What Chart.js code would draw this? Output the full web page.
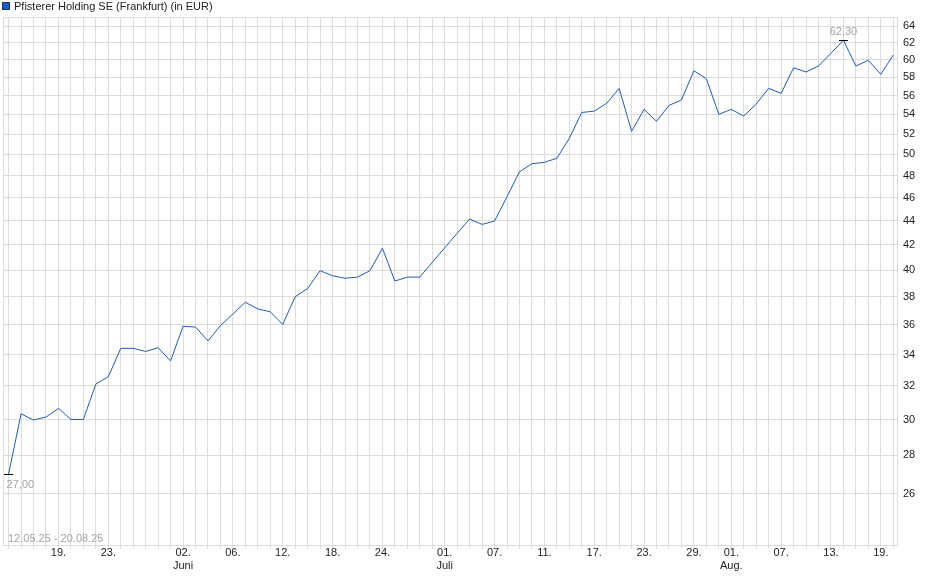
<!DOCTYPE html>
<html>
<head>
<meta charset="utf-8">
<script src="https://cdn.jsdelivr.net/npm/chart.js@4.4.1/dist/chart.umd.min.js"></script>
<style>
  html, body { margin: 0; padding: 0; background: #fff; }
  #wrap { width: 940px; height: 579px; position: relative; }
</style>
</head>
<body>
<div id="wrap"><canvas id="chart"></canvas></div>
<script>
// Closing prices, trading days 13.05.25 - 20.08.25 (Frankfurt)
const prices = [
  27.00, 30.33, 29.97, 30.14, 30.65, 30.00, 30.00, 32.12, 32.57, 34.41,
  34.41, 34.20, 34.45, 33.58, 35.90, 35.85, 34.90, 35.95, 36.76, 37.60,
  37.12, 36.92, 36.03, 38.00, 38.62, 39.96, 39.57, 39.38, 39.47, 39.96,
  41.72, 39.17, 39.47, 39.47, 40.60, 41.76, 42.95, 44.14, 43.69, 43.97,
  46.08, 48.35, 49.10, 49.24, 49.62, 51.57, 54.20, 54.35, 55.16, 56.78,
  52.27, 54.53, 53.29, 54.95, 55.52, 58.74, 57.85, 54.01, 54.53, 53.83,
  55.09, 56.78, 56.23, 59.08, 58.60, 59.28, 60.75, 62.30, 59.28, 59.93,
  58.34, 60.55
];

// x-axis labels: index of trading day -> label lines
const dayLabels = {
  4: ['19.'], 8: ['23.'], 14: ['02.', 'Juni'], 18: ['06.'], 22: ['12.'],
  26: ['18.'], 30: ['24.'], 35: ['01.', 'Juli'], 39: ['07.'], 43: ['11.'],
  47: ['17.'], 51: ['23.'], 55: ['29.'], 58: ['01.', 'Aug.'], 62: ['07.'],
  66: ['13.'], 70: ['19.']
};

const yTicks = [26, 28, 30, 32, 34, 36, 38, 40, 42, 44, 46, 48, 50, 52, 54, 56, 58, 60, 62, 64];

const title = 'Pfisterer Holding SE (Frankfurt) (in EUR)';
const rangeText = '12.05.25 - 20.08.25';
const lowLabel = '27,00';
const highLabel = '62,30';

const FONT = '"Liberation Sans", Arial, sans-serif';
const GRID = '#dcdcdc';
const LINE = '#1d5bc2';
const GREY = '#a3a3a3';

// frame, title and the min / max markers
const decorPlugin = {
  id: 'decor',
  afterDraw(chart) {
    const ctx = chart.ctx;
    const a = chart.chartArea;
    const xs = chart.scales.x, ys = chart.scales.y;
    ctx.save();
    ctx.strokeStyle = GRID;
    ctx.lineWidth = 1;
    ctx.strokeRect(a.left + 0.5, a.top + 0.5, a.right - a.left - 1, a.bottom - a.top - 1);

    // title with legend square
    ctx.fillStyle = LINE;
    ctx.fillRect(3, 3, 6, 6);
    ctx.strokeStyle = '#1b2f6b';
    ctx.strokeRect(2.5, 2.5, 7, 7);
    ctx.fillStyle = '#222';
    ctx.font = '11px ' + FONT;
    ctx.textBaseline = 'middle';
    ctx.textAlign = 'left';
    ctx.fillText(title, 14, 6.5);

    // low / high
    let lo = 0, hi = 0;
    prices.forEach((p, i) => {
      if (p < prices[lo]) lo = i;
      if (p > prices[hi]) hi = i;
    });
    ctx.strokeStyle = '#000';
    const lx = xs.getPixelForValue(lo), ly = Math.round(ys.getPixelForValue(prices[lo])) + 0.5;
    const hx = xs.getPixelForValue(hi), hy = Math.round(ys.getPixelForValue(prices[hi])) + 0.5;
    ctx.beginPath();
    ctx.moveTo(lx - 4.5, ly); ctx.lineTo(lx + 4.5, ly);
    ctx.moveTo(hx - 4.5, hy); ctx.lineTo(hx + 4.5, hy);
    ctx.stroke();

    ctx.fillStyle = GREY;
    ctx.textAlign = 'left';
    ctx.fillText(lowLabel, lx - 2, ly + 10);
    ctx.textAlign = 'center';
    ctx.fillText(highLabel, hx, hy - 9);

    ctx.textAlign = 'left';
    ctx.fillText(rangeText, 8, 539);
    ctx.restore();
  }
};

const ctx = document.getElementById('chart').getContext('2d');
new Chart(ctx, {
  type: 'line',
  data: {
    datasets: [{
      data: prices.map((p, i) => ({ x: i, y: p })),
      borderColor: LINE,
      borderWidth: 1,
      pointRadius: 0,
      tension: 0,
      fill: false
    }]
  },
  options: {
    responsive: true,
    maintainAspectRatio: false,
    animation: false,
    layout: { padding: { top: 17, left: 3, right: 0, bottom: 0 } },
    plugins: {
      legend: { display: false },
      tooltip: { enabled: false }
    },
    scales: {
      x: {
        type: 'linear',
        min: -0.45,
        max: 71.38,
        afterBuildTicks(scale) {
          scale.ticks = prices.map((p, i) => ({ value: i }));
        },
        afterFit(scale) { scale.height = 33; },
        grid: { color: GRID, lineWidth: 1, drawTicks: true, tickLength: 3, tickColor: GRID },
        border: { display: false },
        ticks: {
          autoSkip: false,
          maxRotation: 0,
          padding: -3,
          color: '#222',
          font: { family: FONT, size: 11, lineHeight: 1.2 },
          callback: (v) => dayLabels[v] || ''
        }
      },
      y: {
        type: 'logarithmic',
        position: 'right',
        min: 23.51,
        max: 65.15,
        afterBuildTicks(scale) {
          scale.ticks = yTicks.map(v => ({ value: v }));
        },
        afterFit(scale) { scale.width = 42; },
        grid: { color: GRID, lineWidth: 1, drawTicks: false },
        border: { display: false },
        ticks: {
          padding: 5,
          color: '#222',
          font: { family: FONT, size: 11 },
          callback: (v) => String(v)
        }
      }
    }
  },
  plugins: [decorPlugin]
});
</script>
</body>
</html>
